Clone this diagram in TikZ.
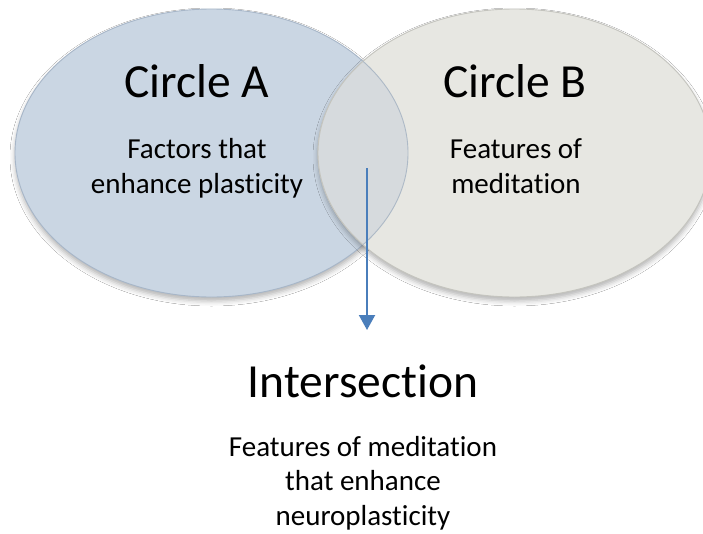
\documentclass[tikz,border=0pt]{standalone}
\usepackage{fontspec}
\setmainfont{Carlito}[Ligatures=NoCommon]
\usetikzlibrary{shapes.geometric,shadows.blur,arrows.meta}
\definecolor{fillA}{HTML}{CAD6E3}
\definecolor{edgeA}{HTML}{A7B6C8}
\definecolor{fillB}{HTML}{E7E7E2}
\definecolor{edgeB}{HTML}{C4C4BE}
\definecolor{fillAB}{HTML}{D6DADD}
\definecolor{arrowblue}{HTML}{4A7EBB}
\begin{document}
\begin{tikzpicture}[x=1pt,y=-1pt,
  setcircle/.style={ellipse, minimum width=393pt, minimum height=288pt, inner sep=0pt,
    line width=0.9pt, blur shadow={shadow xshift=0pt, shadow yshift=-4pt, shadow blur radius=5pt, shadow opacity=30}},
  titletext/.style={font=\fontsize{47.5}{57}\selectfont, inner sep=0pt, anchor=base},
  bodytext/.style={font=\fontsize{29}{34.5}\selectfont, align=center, inner sep=0pt, anchor=base},
  arrowline/.style={draw=arrowblue, line width=2pt, -{Triangle[length=15pt,width=16pt]}}
]
\useasboundingbox (0,0) rectangle (703,533);
\fill[white] (0,0) rectangle (703,533);
\node[setcircle, draw=edgeA, fill=fillA] (A) at (211.5,153) {};
\node[setcircle, draw=edgeB, fill=fillB] (B) at (514.5,153) {};
\begin{scope}
  \clip (211.5,153) ellipse [x radius=196.5pt, y radius=144pt];
  \fill[fillAB] (514.5,153) ellipse [x radius=196.5pt, y radius=144pt];
  \draw[edgeB, line width=0.9pt] (514.5,153) ellipse [x radius=196.5pt, y radius=144pt];
\end{scope}
\begin{scope}
  \clip (514.5,153) ellipse [x radius=196.5pt, y radius=144pt];
  \draw[edgeA!80!edgeB, line width=0.9pt] (211.5,153) ellipse [x radius=196.5pt, y radius=144pt];
\end{scope}
\node[titletext] (tA) at (197,97) {Circle A};
\node[bodytext] (bA) at (197,193) {Factors that\\enhance plasticity};
\node[titletext] (tB) at (515,97) {Circle B};
\node[bodytext] (bB) at (516,193) {Features of\\meditation};
\coordinate (arrS) at (367,168);
\coordinate (arrE) at (367,330);
\draw[arrowline] (arrS) -- (arrE);
\node[titletext] (tI) at (363,397) {Intersection};
\node[bodytext] (bI) at (363,525) {Features of meditation\\that enhance\\neuroplasticity};
\end{tikzpicture}
\end{document}
